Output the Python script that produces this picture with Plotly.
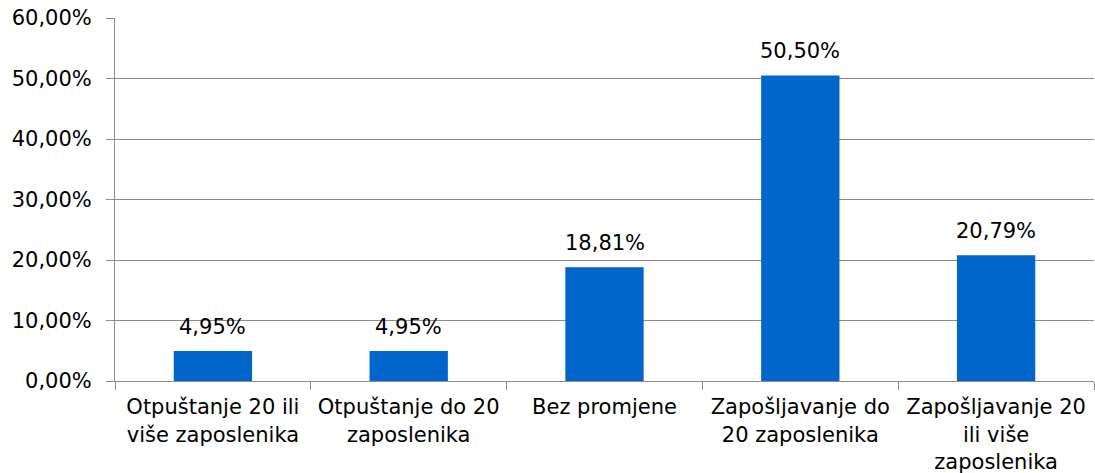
import plotly.graph_objects as go

# categories and shares
categories = [
    "Otpuštanje 20 ili<br>više zaposlenika",
    "Otpuštanje do 20<br>zaposlenika",
    "Bez promjene",
    "Zapošljavanje do<br>20 zaposlenika",
    "Zapošljavanje 20<br>ili više<br>zaposlenika",
]
shares = [0.0495, 0.0495, 0.1881, 0.5050, 0.2079]

FONT = "DejaVu Sans, Verdana, sans-serif"
GRID = "#8c8c8c"
FS = 21

fig = go.Figure(go.Bar(
    x=categories,
    y=shares,
    marker=dict(color="#0066CC", line=dict(width=0)),
    width=0.4,
))

# value labels above the bars
for c, v in zip(categories, shares):
    fig.add_annotation(
        x=c, y=v, text=f"{v * 100:.2f}%".replace(".", ","),
        showarrow=False, yanchor="bottom", yshift=10,
        font=dict(size=FS, color="#000000"),
    )

fig.update_layout(
    width=1095, height=473,
    margin=dict(l=115, r=1, t=18, b=92),
    separators=",.",
    paper_bgcolor="white",
    plot_bgcolor="white",
    font=dict(family=FONT, size=FS, color="#000000"),
    showlegend=False,
)
fig.update_yaxes(
    range=[0, 0.6], dtick=0.1, tickformat=".2%",
    showgrid=True, gridcolor=GRID, gridwidth=1,
    showline=True, linecolor=GRID, linewidth=1,
    ticks="outside", ticklen=8, tickcolor=GRID,
    ticklabelstandoff=10,
    zeroline=False, automargin=False,
)
fig.update_xaxes(
    showline=True, linecolor=GRID, linewidth=1,
    ticks="outside", ticklen=8, tickcolor=GRID,
    tickson="boundaries",
    tickangle=0, ticklabelstandoff=7,
    automargin=False,
)

# drop the default page margin so the figure sits at the window corner
fig.write_html("out.html", config={"displayModeBar": False},
               post_script="document.body.style.margin='0';")
